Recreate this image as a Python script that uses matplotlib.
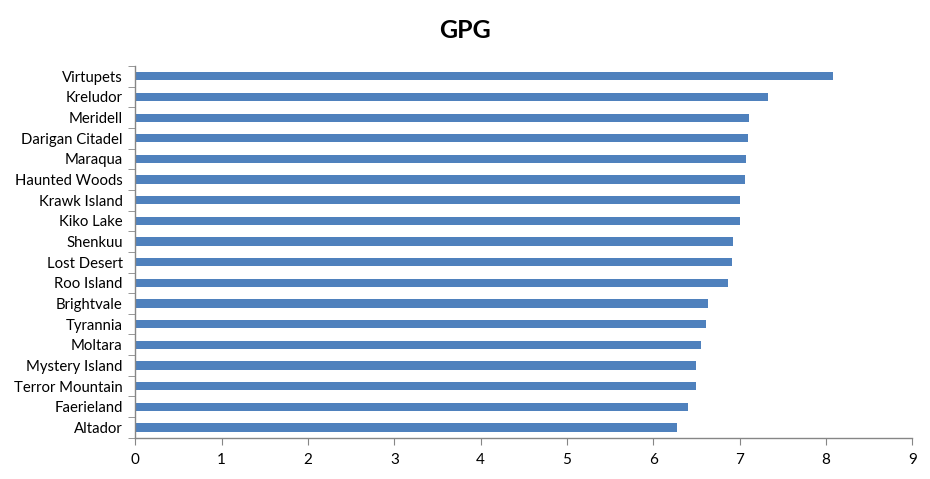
import numpy as np
import matplotlib.pyplot as plt

# valori, dall'alto verso il basso
lands = ["Virtupets", "Kreludor", "Meridell", "Darigan Citadel", "Maraqua",
         "Haunted Woods", "Krawk Island", "Kiko Lake", "Shenkuu", "Lost Desert",
         "Roo Island", "Brightvale", "Tyrannia", "Moltara", "Mystery Island",
         "Terror Mountain", "Faerieland", "Altador"]
gpg = [8.08, 7.33, 7.11, 7.10, 7.07, 7.06, 7.00, 7.00, 6.92, 6.91,
       6.87, 6.63, 6.61, 6.55, 6.49, 6.49, 6.40, 6.27]
xticks = list(range(0, 10))

plt.rcParams['font.family'] = ['Lato', 'DejaVu Sans']
axis_color = "#868686"

fig = plt.figure(figsize=(9.3, 4.79), dpi=100)
ax = fig.add_axes([0.1455, 0.0862, 0.8355, 0.776])

y = np.arange(len(lands))[::-1]
ax.barh(y, gpg, height=0.4, color="#4f81bd")

ax.set_xlim(0, 9)
ax.set_ylim(-0.5, len(lands) - 0.5)
ax.set_xticks(xticks)
ax.set_xticklabels([str(t) for t in xticks], fontsize=11)
ax.set_yticks(y)
ax.set_yticklabels(lands, fontsize=10.7)
ax.set_yticks(np.arange(-0.5, len(lands), 1), minor=True)

for side in ["top", "right"]:
    ax.spines[side].set_visible(False)
for side in ["left", "bottom"]:
    ax.spines[side].set_color(axis_color)
    ax.spines[side].set_linewidth(1)

ax.tick_params(axis="y", which="major", length=0, pad=9)
ax.tick_params(axis="y", which="minor", length=5, color=axis_color, direction="out")
ax.tick_params(axis="x", length=5, color=axis_color, direction="out", pad=6)

fig.text(0.5, 0.937, "GPG", ha="center", va="center", fontsize=18, fontweight="bold")

plt.savefig("out.png", dpi=100)
